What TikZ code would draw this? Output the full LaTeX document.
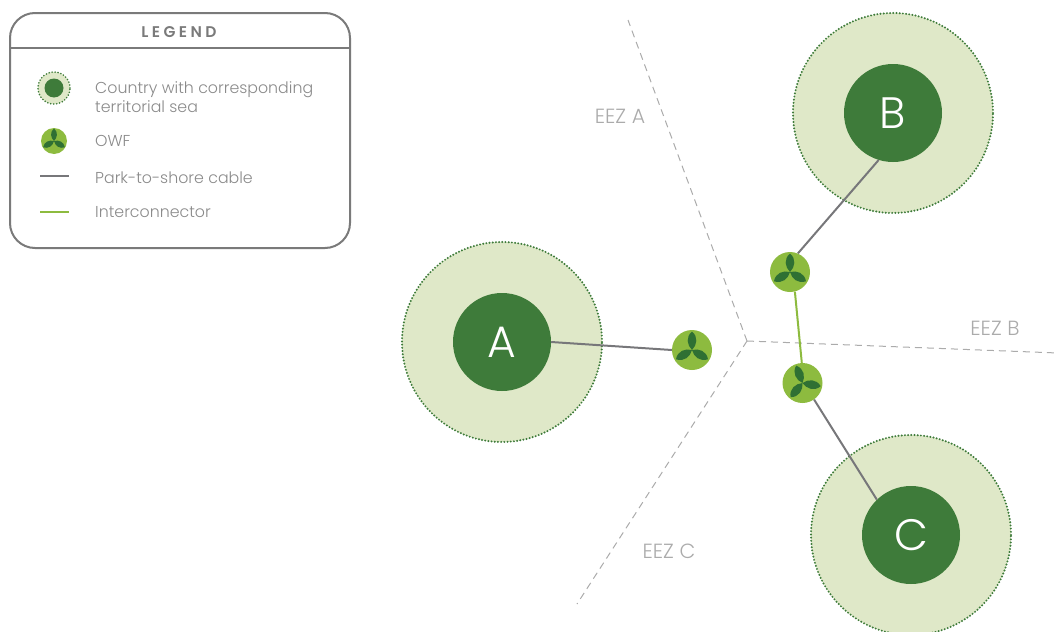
\documentclass[tikz,border=0pt]{standalone}
\usepackage{fontspec}
\setmainfont{Poppins}[UprightFont=* Light]
\definecolor{seaG}{HTML}{DFE8C8}
\definecolor{landG}{HTML}{3E7B3A}
\definecolor{owfG}{HTML}{8DBB3F}
\definecolor{bladeG}{HTML}{2F7033}
\definecolor{cableC}{HTML}{77777A}
\definecolor{boxC}{HTML}{7A7A7A}
\definecolor{txtC}{HTML}{8A8A8A}
\definecolor{eezC}{HTML}{ABABAB}
\tikzset{
  x=1pt,y=-1pt,
  sea/.style={circle,fill=seaG,draw=landG,line cap=round,dash pattern=on 0pt off 3.2pt,line width=2.2pt,inner sep=0,minimum size=#1},
  land/.style={circle,fill=landG,inner sep=0,minimum size=#1,text=white,font=\fontsize{44}{44}\selectfont},
  owf/.style={circle,fill=owfG,inner sep=0,minimum size=#1},
  cable/.style={cableC,line width=2pt},
  inter/.style={owfG,line width=2pt},
  eez/.style={eezC,dash pattern=on 7pt off 5pt,line width=1pt},
  eezlabel/.style={text=eezC,font=\fontsize{20.5}{20.5}\selectfont,inner sep=0},
  legtext/.style={text=txtC,font=\fontsize{15.8}{19}\selectfont,inner sep=0,anchor=west,align=left},
  pics/rotor/.style={code={
    \foreach \a in {0,120,240}{
      \fill[bladeG,rotate=\a] (0,0) .. controls (-5,-5) and (-6.5,-13) .. (0,-18.5) .. controls (6.5,-13) and (5,-5) .. (0,0) -- cycle;
    }
  }}
}
\begin{document}
\begin{tikzpicture}
\useasboundingbox (0,0) rectangle (1061,632);
% sea and land
\node[sea=200pt] (seaA) at (502,342) {};
\node[sea=200pt] (seaB) at (893,113) {};
\node[sea=200pt] (seaC) at (911,535) {};
\node[land=98pt] (A) at (502,342) {A};
\node[land=98pt] (B) at (893,113) {B};
\node[land=98pt] (C) at (911,535) {C};
% EEZ
\coordinate (hub) at (747,341);
\coordinate (eA) at (628,20);
\coordinate (eB) at (1058,353);
\coordinate (eC) at (577,604);
\draw[eez] (hub) -- (eA);
\draw[eez] (hub) -- (eB);
\draw[eez] (hub) -- (eC);
\node[eezlabel] (lA) at (620,116) {EEZ A};
\node[eezlabel] (lB) at (995,328) {EEZ B};
\node[eezlabel] (lC) at (669,551) {EEZ C};
% OWF
\node[owf=40pt] (W1) at (692,350) {};
\node[owf=40pt] (W2) at (790,272) {};
\node[owf=40pt] (W3) at (802.5,383) {};
\pic at (W1) {rotor};
\pic at (W2) {rotor};
\pic[rotate=20] at (W3) {rotor};
% cables
\draw[cable] (A.east) -- (W1.west);
\draw[cable] (B.253) -- (W2.67);
\draw[cable] (C.134) -- (W3.305);
\draw[inter] (W2.284) -- (W3.92);
% legend
\draw[boxC,line width=2pt,rounded corners=25pt] (10,13) rectangle (350,248);
\coordinate (legL) at (10,48);
\coordinate (legR) at (350,48);
\draw[boxC,line width=2pt] (legL) -- (legR);
\node[text=boxC,font=\fontsize{15.5}{15.5}\selectfont\bfseries,inner sep=0] (legT) at (179,32) {\addfontfeature{LetterSpace=22}LEGEND};
\node[sea=32pt,line width=1.8pt,dash pattern=on 0pt off 3pt] (k1) at (54,88) {};
\node[circle,fill=landG,inner sep=0,minimum size=19pt] (k1b) at (54,88) {};
\node[owf=26pt] (k2) at (54,141) {};
\pic[scale=0.68] at (k2) {rotor};
\coordinate (c1) at (40,176);
\coordinate (c2) at (69,176);
\coordinate (i1) at (40,212);
\coordinate (i2) at (69,212);
\draw[cable,line width=1.5pt] (c1) -- (c2);
\draw[inter,line width=1.5pt] (i1) -- (i2);
\node[legtext] (t1) at (95,97) {Country with corresponding\\territorial sea};
\node[legtext] (t2) at (95,141) {OWF};
\node[legtext] (t3) at (95,178) {Park-to-shore cable};
\node[legtext] (t4) at (95,212) {Interconnector};
\end{tikzpicture}
\end{document}
